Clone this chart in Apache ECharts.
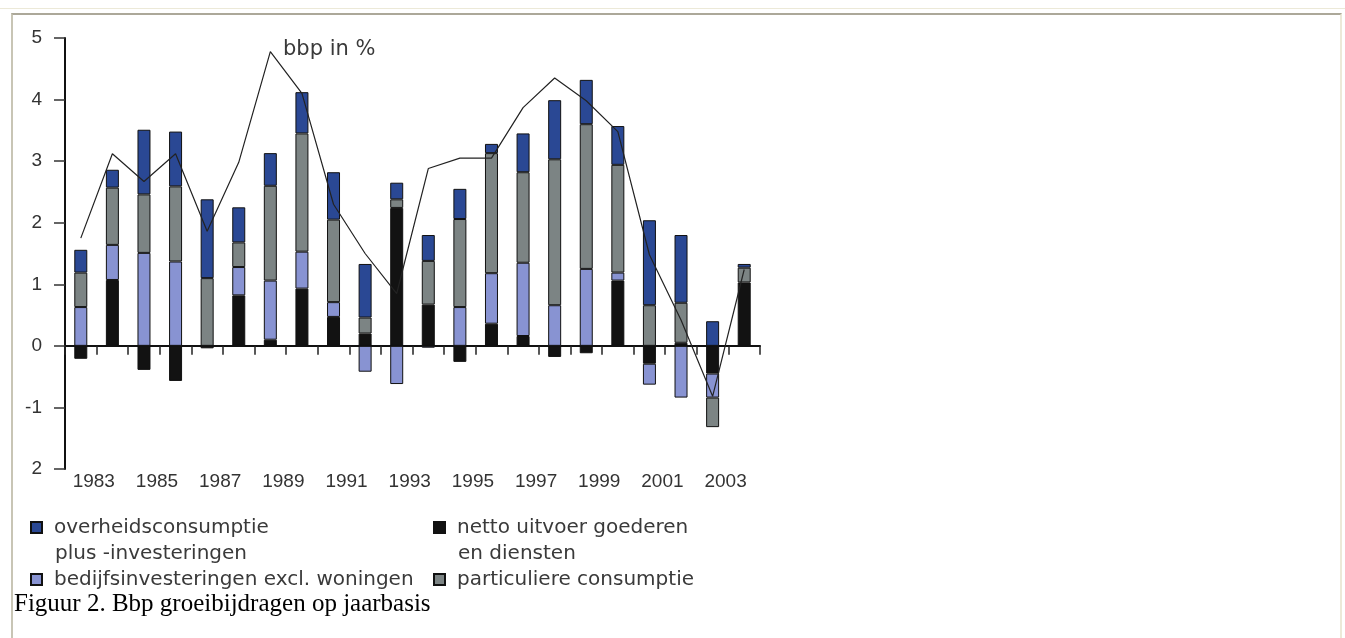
<!DOCTYPE html>
<html>
<head>
<meta charset="utf-8">
<script src="https://cdn.jsdelivr.net/npm/echarts@6/dist/echarts.min.js"></script>
<style>
  html, body { margin: 0; padding: 0; background: #fff; }
  #main { position: absolute; left: 0; top: 0; width: 1345px; height: 638px; }
  .line-top { position: absolute; left: 0; top: 8px; width: 1345px; height: 1px; background: #ece9d8; }
  .frame { position: absolute; left: 11px; top: 13px; width: 1327px; height: 700px;
           border-top: 2px solid #aca899; border-left: 2px solid #c8c5b5; border-right: 2px solid #ece9d8;
           pointer-events: none; }
</style>
</head>
<body>
<div class="line-top"></div>
<div id="main"></div>
<div class="frame"></div>
<script>
// jaren 1983 - 2004
let years = ['1983','1984','1985','1986','1987','1988','1989','1990','1991','1992','1993',
             '1994','1995','1996','1997','1998','1999','2000','2001','2002','2003','2004'];

let nettoUitvoer = [-0.21, 1.07, -0.39, -0.57, -0.04, 0.82, 0.10, 0.93, 0.47, 0.20, 2.24,
                    0.67, -0.26, 0.36, 0.16, -0.18, -0.12, 1.06, -0.29, 0.05, -0.45, 1.03];
let bedrijfsInv = [0.63, 0.57, 1.51, 1.37, null, 0.46, 0.96, 0.60, 0.24, -0.42, -0.62,
                   -0.03, 0.63, 0.82, 1.19, 0.66, 1.25, 0.13, -0.34, -0.84, -0.39, null];
let particulier = [0.56, 0.93, 0.95, 1.22, 1.10, 0.40, 1.54, 1.92, 1.34, 0.26, 0.14,
                   0.71, 1.43, 1.95, 1.47, 2.37, 2.35, 1.75, 0.66, 0.65, -0.48, 0.24];
let overheid = [0.37, 0.29, 1.05, 0.89, 1.28, 0.57, 0.53, 0.67, 0.77, 0.87, 0.27,
                0.42, 0.49, 0.15, 0.63, 0.96, 0.72, 0.63, 1.38, 1.10, 0.40, 0.06];
let bbp = [1.75, 3.12, 2.67, 3.12, 1.86, 2.98, 4.78, 4.10, 2.30, 1.50, 0.85,
           2.88, 3.05, 3.05, 3.87, 4.35, 3.98, 3.48, 1.48, 0.42, -0.82, 1.24];

// labels van de y-as, van -2 tot 5 (zoals in het origineel)
let yTickLabels = ['2', '-1', '0', '1', '2', '3', '4', '5'];

let names = {
    overheid: 'overheidsconsumptie\nplus -investeringen',
    netto: 'netto uitvoer goederen\nen diensten',
    bedrijf: 'bedijfsinvesteringen excl. woningen',
    particulier: 'particuliere consumptie'
};

let chart = echarts.init(document.getElementById('main'));

let legendFont = {
    fontFamily: 'DejaVu Sans',
    fontSize: 20,
    lineHeight: 25,
    color: '#3a3a3a'
};

// een legenda per vakje, alleen de eerste regel; de tweede regel staat in graphic
function legendAt(name, left, top) {
    return {
        left: left,
        top: top,
        padding: 0,
        icon: 'rect',
        itemWidth: 11,
        itemHeight: 11,
        selectedMode: false,
        textStyle: Object.assign({ padding: [0, 0, 0, 7] }, legendFont),
        formatter: function (n) { return n.split('\n')[0]; },
        data: [name]
    };
}

function secondLine(name, left) {
    return {
        type: 'text',
        left: left,
        top: 544,
        style: {
            text: name.split('\n')[1],
            fontFamily: legendFont.fontFamily,
            fontSize: legendFont.fontSize,
            fill: legendFont.color
        }
    };
}

let barStyle = function (color) {
    return { color: color, borderColor: '#111', borderWidth: 1 };
};

let option = {
    animation: false,
    backgroundColor: 'transparent',
    title: {
        text: 'Figuur 2. Bbp groeibijdragen op jaarbasis',
        left: 14,
        top: 592,
        padding: 0,
        textStyle: {
            fontFamily: 'Liberation Serif',
            fontWeight: 'normal',
            fontSize: 25,
            color: '#000'
        }
    },
    legend: [
        legendAt(names.overheid, 30, 515),
        legendAt(names.netto, 433, 515),
        legendAt(names.bedrijf, 30, 567),
        legendAt(names.particulier, 433, 567)
    ],
    grid: {
        left: 65,
        top: 38,
        width: 695,
        height: 431
    },
    xAxis: [
        {
            type: 'category',
            data: years,
            position: 'bottom',
            axisLine: { show: false, onZero: false },
            axisTick: { show: false },
            axisLabel: {
                interval: 1,
                margin: 3,
                fontFamily: 'Liberation Sans',
                fontSize: 19,
                color: '#333',
                padding: [0, 0, 0, 26]
            }
        },
        {
            type: 'category',
            data: years,
            position: 'bottom',
            axisLine: { show: true, onZero: true, lineStyle: { color: '#111', width: 2 } },
            axisTick: { show: true, interval: 0, length: 9, lineStyle: { color: '#222', width: 1.5 } },
            axisLabel: { show: false }
        }
    ],
    yAxis: {
        type: 'value',
        min: -2,
        max: 5,
        interval: 1,
        splitLine: { show: false },
        axisLine: { show: true, lineStyle: { color: '#111', width: 2 } },
        axisTick: { show: true, length: 11, lineStyle: { color: '#333', width: 1.5 } },
        axisLabel: {
            margin: 23,
            fontFamily: 'Liberation Sans',
            fontSize: 19,
            color: '#333',
            formatter: function (v) { return yTickLabels[v + 2]; }
        }
    },
    graphic: [
        {
            type: 'text',
            left: 283,
            top: 39,
            style: {
                text: 'bbp in %',
                fontFamily: 'DejaVu Sans',
                fontSize: 21,
                fill: '#3a3a3a'
            }
        },
        secondLine(names.overheid, 55),
        secondLine(names.netto, 458)
    ],
    series: [
        {
            name: names.netto,
            type: 'bar',
            stack: 'totaal',
            barWidth: 13,
            itemStyle: barStyle('#121212'),
            data: nettoUitvoer
        },
        {
            name: names.bedrijf,
            type: 'bar',
            stack: 'totaal',
            barWidth: 13,
            itemStyle: barStyle('#8893d2'),
            data: bedrijfsInv
        },
        {
            name: names.particulier,
            type: 'bar',
            stack: 'totaal',
            barWidth: 13,
            itemStyle: barStyle('#7c8484'),
            data: particulier
        },
        {
            name: names.overheid,
            type: 'bar',
            stack: 'totaal',
            barWidth: 13,
            itemStyle: barStyle('#2a4894'),
            data: overheid
        },
        {
            name: 'bbp in %',
            type: 'line',
            z: 5,
            symbol: 'none',
            lineStyle: { color: '#222', width: 1.2 },
            data: bbp
        }
    ]
};
chart.setOption(option);
</script>
</body>
</html>
